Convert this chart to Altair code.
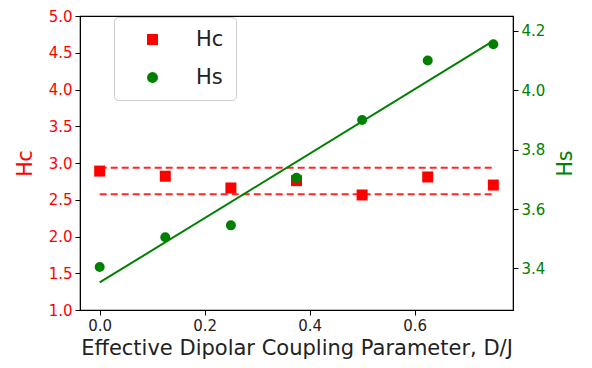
import altair as alt
import pandas as pd

# data
coupling = [0.0, 0.125, 0.25, 0.375, 0.5, 0.625, 0.75]
hc_values = [2.89, 2.82, 2.66, 2.76, 2.565, 2.81, 2.70]
hs_values = [3.405, 3.505, 3.545, 3.705, 3.90, 4.10, 4.155]
hc_bounds = [2.935, 2.575]
bound_extent = [0.0, 0.75]

df = pd.DataFrame({"x": coupling, "Hc": hc_values, "Hs": hs_values})
bounds = pd.DataFrame({"y": hc_bounds, "x0": [bound_extent[0]] * 2, "x1": [bound_extent[1]] * 2})

FONT = "DejaVu Sans"
x_scale = alt.Scale(domain=[-0.0375, 0.7875], nice=False, zero=False)
x_axis = alt.Axis(title="Effective Dipolar Coupling Parameter, D/J", values=[0.0, 0.2, 0.4, 0.6],
                  format=".1f", grid=False, labelFontSize=15, titleFontSize=21, labelColor="#222",
                  titleColor="#222", tickColor="black", domainColor="black", tickSize=5,
                  labelPadding=3, titlePadding=4, labelFont=FONT, titleFont=FONT, titleFontWeight="normal")

hc_scale = alt.Scale(domain=[1.0, 5.0], nice=False, zero=False)
hc_axis = alt.Axis(title="Hc", orient="left", values=[1.0, 1.5, 2.0, 2.5, 3.0, 3.5, 4.0, 4.5, 5.0],
                   format=".1f", grid=False, labelColor="red", titleColor="red", labelFontSize=15,
                   titleFontSize=20.5, tickColor="black", domainColor="black", tickSize=5, labelPadding=3,
                   titlePadding=13, labelFont=FONT, titleFont=FONT, titleFontWeight="normal")
hs_scale = alt.Scale(domain=[3.26, 4.25], nice=False, zero=False)
hs_axis = alt.Axis(title="Hs", orient="right", values=[3.4, 3.6, 3.8, 4.0, 4.2],
                   format=".1f", grid=False, labelColor="green", titleColor="green", labelFontSize=15,
                   titleFontSize=20.5, titleAngle=270, tickColor="black", domainColor="black", tickSize=5,
                   labelPadding=3, titlePadding=31, labelFont=FONT, titleFont=FONT, titleFontWeight="normal")

series_color = alt.Scale(domain=["Hc", "Hs"], range=["#ff0000", "#008000"])
series_shape = alt.Scale(domain=["Hc", "Hs"], range=["square", "circle"])
legend = alt.Legend(title=None, orient="none", legendX=34, legendY=1, fillColor="white",
                    strokeColor="#cccccc", cornerRadius=4, padding=12, symbolOffset=16,
                    labelOffset=33, labelFontSize=21, labelFont=FONT, labelColor="#222",
                    rowPadding=16, symbolSize=120, symbolStrokeWidth=0)

base = alt.Chart(df)

hc_points = base.transform_calculate(series="'Hc'").mark_point(filled=True, size=121, opacity=1).encode(
    x=alt.X("x:Q", scale=x_scale, axis=x_axis),
    y=alt.Y("Hc:Q", scale=hc_scale, axis=hc_axis),
    color=alt.Color("series:N", scale=series_color, legend=legend),
    shape=alt.Shape("series:N", scale=series_shape, legend=legend),
)
hc_rules = alt.Chart(bounds).mark_rule(color="#ff0000", strokeWidth=2, strokeDash=[7, 4], opacity=0.85).encode(
    x=alt.X("x0:Q", scale=x_scale, axis=x_axis),
    x2="x1:Q",
    y=alt.Y("y:Q", scale=hc_scale, axis=hc_axis),
)
left = alt.layer(hc_rules, hc_points)

hs_line = base.transform_regression("x", "Hs", extent=[0.0, 0.75]).mark_line(color="#008000", strokeWidth=2).encode(
    x=alt.X("x:Q", scale=x_scale, axis=x_axis),
    y=alt.Y("Hs:Q", scale=hs_scale, axis=hs_axis),
)
hs_points = base.transform_calculate(series="'Hs'").mark_point(filled=True, size=100, opacity=1).encode(
    x=alt.X("x:Q", scale=x_scale, axis=x_axis),
    y=alt.Y("Hs:Q", scale=hs_scale, axis=hs_axis),
    color=alt.Color("series:N", scale=series_color, legend=legend),
    shape=alt.Shape("series:N", scale=series_shape, legend=legend),
)
right = alt.layer(hs_line, hs_points)

chart = alt.layer(left, right).resolve_scale(y="independent").properties(
    width=433, height=294,
    autosize=alt.AutoSizeParams(type="none"),
    padding={"left": 72, "top": 8, "right": 71, "bottom": 50},
    background="white",
).configure_view(stroke="black", strokeWidth=1.2)

chart.save("out.html", embed_options={"renderer": "svg", "actions": False})
